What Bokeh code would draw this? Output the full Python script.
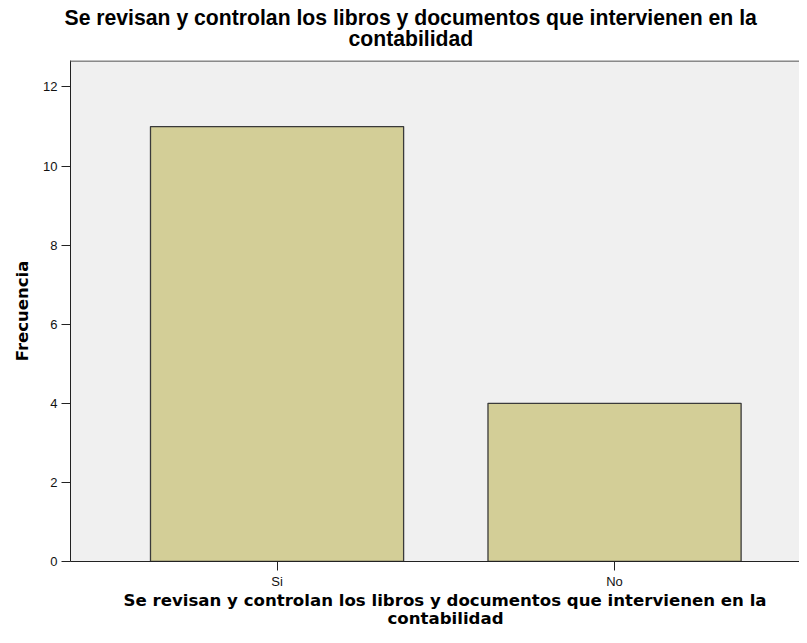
import numpy as np
from bokeh.plotting import figure
from bokeh.models import Range1d, FixedTicker, Title, Span
from bokeh.embed import file_html
from bokeh.resources import INLINE

categories = ["Si", "No"]
frecuencia = [11, 4]
y_ticks = [0, 2, 4, 6, 8, 10, 12]
title_lines = ["Se revisan y controlan los libros y documentos que intervienen en la", "contabilidad"]
x_label_lines = ["Se revisan y controlan los libros y documentos que intervienen en la", "contabilidad"]
y_label = "Frecuencia"

x = list(range(len(categories)))

p = figure(width=799, height=627, output_backend="svg", toolbar_location=None,
           x_range=Range1d(-0.612, 1.548), y_range=Range1d(0, 12.67),
           min_border_left=70, min_border_right=0, min_border_top=60, min_border_bottom=65)
p.background_fill_color = "#F0F0F0"
p.border_fill_color = "white"
p.outline_line_color = None
p.xgrid.visible = False
p.ygrid.visible = False

p.vbar(x=x, top=frecuencia, width=0.75, fill_color="#D3CE97", line_color="#3a3a3a", line_width=1.3)

# top border of the plot area
p.add_layout(Span(location=p.y_range.end, dimension="width", line_color="#8a8a8a", line_width=3))

# y axis
ya = p.yaxis[0]
ya.ticker = FixedTicker(ticks=y_ticks)
ya.axis_line_color = "#222222"
ya.major_tick_line_color = "#222222"
ya.major_tick_out = 9
ya.major_tick_in = 0
ya.minor_tick_line_color = None
ya.major_label_standoff = 4
ya.major_label_text_font = "Liberation Sans"
ya.major_label_text_font_size = "13px"
ya.major_label_text_color = "#111111"
ya.axis_label = y_label
ya.axis_label_text_font = "DejaVu Sans"
ya.axis_label_text_font_style = "bold"
ya.axis_label_text_font_size = "16.5px"
ya.axis_label_text_color = "#000000"
ya.axis_label_standoff = 8

# x axis
xa = p.xaxis[0]
xa.ticker = FixedTicker(ticks=x)
xa.major_label_overrides = {i: c for i, c in zip(x, categories)}
xa.axis_line_color = "#222222"
xa.major_tick_line_color = "#222222"
xa.major_tick_out = 9
xa.major_tick_in = 0
xa.minor_tick_line_color = None
xa.major_label_standoff = 3
xa.major_label_text_font = "Liberation Sans"
xa.major_label_text_font_size = "13px"
xa.major_label_text_color = "#111111"

# titles above: first added sits nearest the frame
title_offsets = [-6, 278]
title_standoffs = [-31, 22]
for line, off, so in reversed(list(zip(title_lines, title_offsets, title_standoffs))):
    p.add_layout(Title(text=line, align="left", offset=off, standoff=so,
                       text_font="Liberation Sans", text_font_style="bold",
                       text_font_size="21.2px", text_color="#000000",
                       text_line_height=0.95), "above")

# x axis label lines below
xl_offsets = [53, 317]
xl_standoffs = [-6, 0]
for line, off, so in zip(x_label_lines, xl_offsets, xl_standoffs):
    p.add_layout(Title(text=line, align="left", offset=off, standoff=so,
                       text_font="DejaVu Sans", text_font_style="bold",
                       text_font_size="16.6px", text_color="#000000",
                       text_line_height=1.0), "below")

open("out.html", "w").write(file_html(p, INLINE))
